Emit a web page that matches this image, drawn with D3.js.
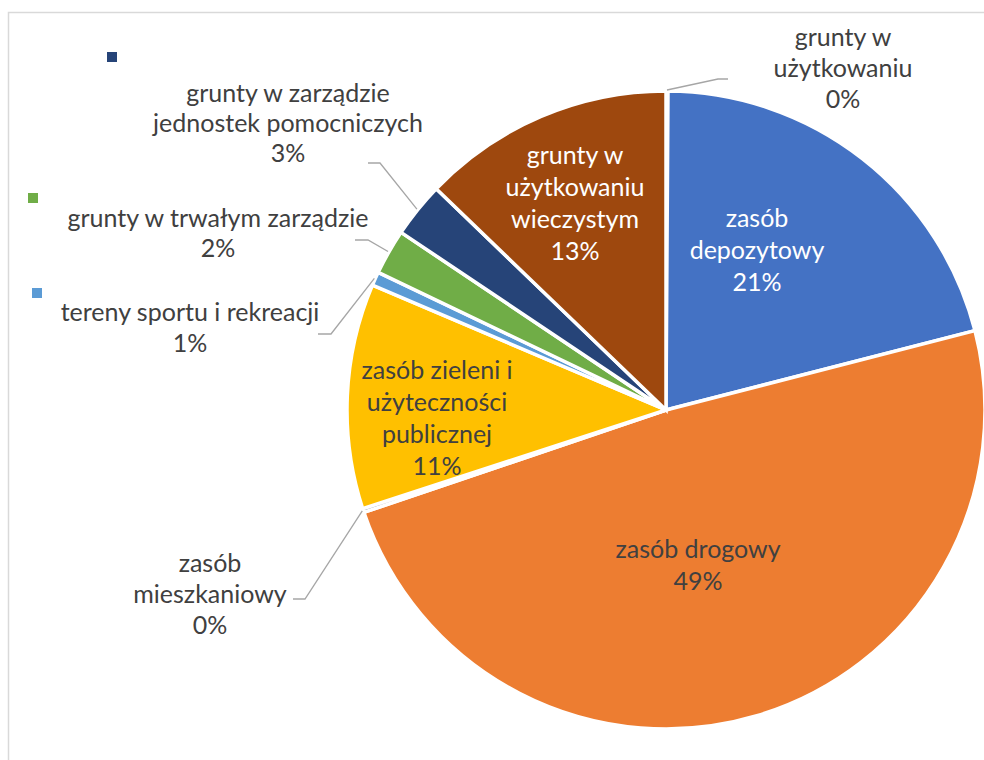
<!DOCTYPE html>
<html><head><meta charset="utf-8">
<script src="https://cdn.jsdelivr.net/npm/d3@7"></script>
<style>body{margin:0;background:#fff}svg{display:block}</style>
</head><body>
<script>
// ---- data ----
const categories = [
  "grunty w użytkowaniu",
  "zasób depozytowy",
  "zasób drogowy",
  "zasób mieszkaniowy",
  "zasób zieleni i użyteczności publicznej",
  "tereny sportu i rekreacji",
  "grunty w trwałym zarządzie",
  "grunty w zarządzie jednostek pomocniczych",
  "grunty w użytkowaniu wieczystym"
];
const values = [0.1, 20.9, 48.8, 0.2, 11.4, 0.7, 2.3, 2.8, 12.8];
const labelLines = [
  ["grunty w", "użytkowaniu"],
  ["zasób", "depozytowy"],
  ["zasób drogowy"],
  ["zasób", "mieszkaniowy"],
  ["zasób zieleni i", "użyteczności", "publicznej"],
  ["tereny sportu i rekreacji"],
  ["grunty w trwałym zarządzie"],
  ["grunty w zarządzie", "jednostek pomocniczych"],
  ["grunty w", "użytkowaniu", "wieczystym"]
];
const legendShown = [7, 6, 5]; // legend entries visible (markers only)

// ---- styles / layout ----
const colors = ["#A5A5A5","#4472C4","#ED7D31","#A5A5A5","#FFC000","#5B9BD5","#70AD47","#264478","#9E480E"];
const W = 984, H = 760, cx = 666, cy = 410, R = 319;
const fontSize = 25;
// label anchor (center x, first baseline y), line height, leader elbow / end points
const labelLayout = [
  {x: 843, y: 46, lh: 31, inside: false, color: "#404040", elbow: [718, 79], end: [728, 79]},
  {x: 757, y: 227, lh: 32, inside: true, color: "#ffffff"},
  {x: 698, y: 558, lh: 32, inside: true, color: "#404040"},
  {x: 210, y: 572, lh: 31, inside: false, color: "#404040", elbow: [305, 599], end: [293, 599]},
  {x: 437, y: 379, lh: 32, inside: true, color: "#404040"},
  {x: 190, y: 321, lh: 31, inside: false, color: "#404040", elbow: [331, 334], end: [318, 334]},
  {x: 218, y: 227, lh: 30, inside: false, color: "#404040", elbow: [368, 240], end: [355, 240]},
  {x: 288, y: 102, lh: 30, inside: false, color: "#404040", elbow: [380, 163], end: [368, 163]},
  {x: 575, y: 164, lh: 32, inside: true, color: "#ffffff"}
];
const legendPos = [[107, 52], [28, 193], [32, 288]];

const svg = d3.select("body").append("svg").attr("width", W).attr("height", H);

// chart border
svg.append("path").attr("d", `M8.5,${H} L8.5,12.5 L${W},12.5`)
  .attr("fill", "none").attr("stroke", "#d9d9d9").attr("stroke-width", 1.5);

const total = d3.sum(values);
const pct = d3.format(".0%");
const pie = d3.pie().sort(null).value(d => d)(values);
const arc = d3.arc().innerRadius(0).outerRadius(R);

const g = svg.append("g").attr("transform", `translate(${cx},${cy})`);
g.selectAll("path.slice").data(pie).join("path")
  .attr("class", "slice")
  .attr("d", arc)
  .attr("fill", (d, i) => colors[i])
  .attr("stroke", "#fff").attr("stroke-width", 3.5).attr("stroke-linejoin", "miter");

// leader lines
pie.forEach((d, i) => {
  const L = labelLayout[i];
  if (L.inside) return;
  const a = (d.startAngle + d.endAngle) / 2;
  const sx = cx + Math.sin(a) * (R + 1), sy = cy - Math.cos(a) * (R + 1);
  svg.append("polyline")
    .attr("points", [[sx, sy], L.elbow, L.end].map(p => p.join(",")).join(" "))
    .attr("fill", "none").attr("stroke", "#a6a6a6").attr("stroke-width", 1.3);
});

// labels
const fontFamily = "Lato, 'Open Sans', sans-serif";
pie.forEach((d, i) => {
  const L = labelLayout[i];
  const lines = labelLines[i].concat([pct(values[i] / total)]);
  const t = svg.append("text")
    .attr("text-anchor", "middle")
    .attr("font-family", fontFamily)
    .attr("font-size", fontSize)
    .attr("fill", L.color);
  lines.forEach((s, k) => {
    t.append("tspan").attr("x", L.x).attr("y", L.y + k * L.lh).text(s);
  });
});

// legend markers
legendShown.forEach((ci, k) => {
  svg.append("rect")
    .attr("x", legendPos[k][0]).attr("y", legendPos[k][1])
    .attr("width", 10).attr("height", 10)
    .attr("fill", colors[ci]);
});
</script>
</body></html>
